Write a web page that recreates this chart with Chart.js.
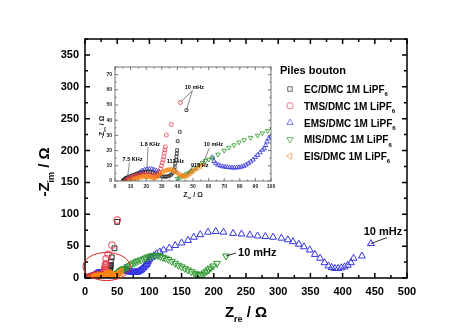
<!DOCTYPE html>
<html>
<head>
<meta charset="utf-8">
<script src="https://cdn.jsdelivr.net/npm/chart.js@4.4.0/dist/chart.umd.min.js"></script>
<style>
  body { margin: 0; background: #fff; }
  #wrap { position: relative; width: 474px; height: 335px; }
  #main { position: absolute; left: 0; top: 0; }
  #inset { position: absolute; left: 90px; top: 55px; }
</style>
</head>
<body>
<div id="wrap">
  <canvas id="main" width="474" height="335"></canvas>
  <canvas id="inset" width="190" height="150"></canvas>
</div>
<script>
const FONT = '"Liberation Sans", Arial, sans-serif';

// Nyquist data, [Z_re, -Z_im] in ohm
const ecPts = [[5,0.2],[5.5,0.6],[6,1],[6.5,1.4],[7,1.8],[7.5,2.1],[8,2.4],[9,2.8],[10,3.2],[11,3.6],[12,4],[13,4.4],[14,4.8],[15,5.1],[16.5,5.5],[18,5.8],[19.5,6],[21,6],[22.5,5.8],[24,5.4],[25.5,4.8],[27,4.1],[28.5,3.5],[30,3.1],[31,2.9],[32,2.8],[33,2.9],[34,3.1],[35,3.5],[36,4.2],[37,5.3],[37.8,7],[38.3,9],[38.7,11.6],[39.1,13.8],[39.4,16],[39.6,18],[39.8,20.3],[40.2,26.2],[41.5,32.4],[45.8,46.6],[50,88]];
const tmsPts = [[7,0.2],[7.5,0.6],[8,1],[9,1.5],[10,2],[11,2.5],[12,2.9],[13,3.3],[14,3.6],[15,3.9],[16.5,4.2],[18,4.4],[19.5,4.5],[21,4.4],[22.5,4.1],[24,3.7],[25,3.4],[26,3.3],[27,3.6],[27.8,4.5],[28.5,6],[29.2,8],[29.8,10],[30.3,12],[30.8,14],[31.2,16],[31.6,18.5],[32,20.5],[32.3,22.5],[32.9,30.2],[36.1,37.2],[41.9,51.6],[50,91]];
const emsPts = [[12,0.5],[13,2],[14,3.5],[15,4.8],[16,5.8],[17.5,6.8],[19,7.4],[20.5,7.8],[22,7.9],[23.5,7.8],[25,7.4],[26.5,6.8],[28,6.2],[62.4,15.5],[63.5,13],[64.5,11.6],[66,10.6],[67.5,10],[69,9.6],[70.5,9.3],[72,9.1],[73.5,8.9],[75,8.8],[76.5,8.7],[78,8.8],[79.5,9],[81,9.3],[82.5,9.8],[84,10.6],[85.5,11.6],[87,12.7],[88.5,14],[90,15.6],[91.4,17],[93,18.8],[94.5,20.4],[95.7,21.4],[96.6,23.5],[97.4,25.8],[98.5,28],[100,29.5],[103,32],[107,35],[111,38],[116,41],[122,44],[131,47],[140,51],[150,55],[160,59],[169,64],[179,68],[191,72],[203,73],[215,72],[230,70],[243,69],[256,67.5],[268,66],[280,65],[292,64],[305,62.5],[315,60],[323,57],[332,53],[340,49],[349,44],[357,37],[365,31],[372,24],[378,19],[383,16.5],[388,15],[393,15],[398,16],[403,17.5],[408,20],[413,24],[417,31],[430,34.5],[444,54]];
const misPts = [[40,1.5],[41.5,2.2],[43,3],[44.5,3.8],[46,4.6],[47.5,5.5],[49,6.5],[50,7],[52,8.5],[54,10.5],[56,12],[58,13.2],[60,14.2],[62.4,15],[66,17.5],[70,20],[73,22],[76.3,23.6],[79.5,25.5],[82.8,27],[87,28.5],[91.4,30],[94.5,31.5],[97.8,33],[101,34],[104.5,35],[108.7,35.5],[113,35.3],[117,34],[121,32.5],[125,31],[129.5,29],[134.6,26],[140,23],[145,20],[150,17.5],[155,15],[160,12.5],[165,10],[170,7.5],[173,6],[176,4.7],[179,5],[182,6],[185.5,8],[189,10.5],[192,13],[195,15.5],[199,18.8],[205,23],[219,34.5]];
const eisPts = [[9,0.2],[10,0.6],[11,1],[12,1.4],[13,1.8],[14,2.1],[15,2.4],[16,2.6],[17,2.8],[18,2.9],[19,3],[20,3],[21,2.9],[22,2.7],[23,2.4],[24,2.2],[25,2.1],[26,2.3],[27,2.9],[28,3.8],[29,4.8],[30,5.6],[31,6.3],[32,6.8],[33,7.2],[34,7.4],[35,7.5],[36,7.4],[37,7.1],[38,6.6],[39,5.9],[40,5.1],[41,4.3],[42,3.7],[43,3.3],[44,3.1],[45,3.2],[46,3.6],[47,4.2],[48,5],[49,5.8],[50,6.6],[51.5,7.6],[53,8.6],[54.5,9.6],[56,10.6]];

const electrolytes = ['EC/DMC 1M LiPF', 'TMS/DMC 1M LiPF', 'EMS/DMC 1M LiPF', 'MIS/DMC 1M LiPF', 'EIS/DMC 1M LiPF'];
const legendTitle = 'Piles bouton';

// series look: colour, point style, rotation, draw order (lower = on top)
const looks = [
  { pts: ecPts,  color: '#2a2a2a', key: '#555555', style: 'rect',     rot: 0,   order: 3 },
  { pts: tmsPts, color: '#e83c4c', key: '#ee6677', style: 'circle',   rot: 0,   order: 2 },
  { pts: emsPts, color: '#3434e0', key: '#6a6ae8', style: 'triangle', rot: 0,   order: 4 },
  { pts: misPts, color: '#2c962c', key: '#5aaa5a', style: 'triangle', rot: 180, order: 1 },
  { pts: eisPts, color: '#ff8412', key: '#f4a860', style: 'triangle', rot: 270, order: 0 }
];

function makeSets(r, bw) {
  return looks.map((s, i) => ({
    label: electrolytes[i],
    data: s.pts.map(p => ({ x: p[0], y: p[1] })),
    pointStyle: s.style,
    rotation: s.rot,
    order: s.order,
    borderColor: s.color,
    backgroundColor: 'rgba(0,0,0,0)',
    pointRadius: s.style === 'triangle' ? r + 0.6 : r,
    borderWidth: bw,
    showLine: false
  }));
}

// text made of pieces, some of them subscripts
function drawParts(ctx, parts, x, y, size, align) {
  const sub = Math.round(size * 0.6);
  let w = 0;
  parts.forEach(([t, s]) => { ctx.font = `bold ${s ? sub : size}px ${FONT}`; w += ctx.measureText(t).width; });
  let cx = align === 'center' ? x - w / 2 : x;
  ctx.textAlign = 'left';
  ctx.textBaseline = 'alphabetic';
  parts.forEach(([t, s]) => {
    ctx.font = `bold ${s ? sub : size}px ${FONT}`;
    ctx.fillText(t, cx, s ? y + size * 0.32 : y);
    cx += ctx.measureText(t).width;
  });
}

// closed box with inward ticks on all four sides
function drawFrame(chart, o) {
  const { ctx, chartArea: a, scales: { x, y } } = chart;
  ctx.save();
  ctx.strokeStyle = o.color;
  ctx.lineWidth = o.lw;
  ctx.strokeRect(a.left, a.top, a.right - a.left, a.bottom - a.top);
  ctx.beginPath();
  for (let v = x.min; v <= x.max; v += o.xMinor) {
    const p = x.getPixelForValue(v);
    const len = v % o.xMajor === 0 ? o.major : o.minor;
    ctx.moveTo(p, a.bottom); ctx.lineTo(p, a.bottom - len);
    ctx.moveTo(p, a.top); ctx.lineTo(p, a.top + len);
  }
  for (let v = y.min; v <= y.max; v += o.yMinor) {
    const p = y.getPixelForValue(v);
    const len = v % o.yMajor === 0 ? o.major : o.minor;
    ctx.moveTo(a.left, p); ctx.lineTo(a.left + len, p);
    ctx.moveTo(a.right, p); ctx.lineTo(a.right - len, p);
  }
  ctx.stroke();
  ctx.restore();
}

// frequency labels: anchored to a data point, text offset and leader end in px
function drawNotes(chart, notes, size, lineColor) {
  const { ctx, scales: { x, y } } = chart;
  ctx.save();
  notes.forEach(n => {
    const px = x.getPixelForValue(n.at[0][0]);
    const py = y.getPixelForValue(n.at[0][1]);
    const tx = px + n.dx, ty = py + n.dy;
    ctx.strokeStyle = lineColor;
    ctx.lineWidth = 0.8;
    ctx.beginPath();
    n.at.forEach(p => {
      ctx.moveTo(tx + n.ex, ty + n.ey);
      ctx.lineTo(x.getPixelForValue(p[0]), y.getPixelForValue(p[1]));
    });
    ctx.stroke();
    ctx.fillStyle = '#000';
    ctx.font = `bold ${size}px ${FONT}`;
    ctx.textAlign = n.align || 'center';
    ctx.textBaseline = 'middle';
    ctx.fillText(n.text, tx, ty);
  });
  ctx.restore();
}

const mainDecor = {
  id: 'mainDecor',
  afterDraw(chart) {
    const { ctx, scales: { x, y } } = chart;
    drawFrame(chart, { color: '#000', lw: 1.5, xMinor: 25, xMajor: 50, yMinor: 25, yMajor: 50, major: 5, minor: 3 });

    ctx.save();
    ctx.fillStyle = '#000';
    drawParts(ctx, [['Z', false], ['re', true], [' / \u03A9', false]], 246, 317, 15, 'center');
    ctx.translate(49, 172);
    ctx.rotate(-Math.PI / 2);
    drawParts(ctx, [['-Z', false], ['im', true], [' / \u03A9', false]], 0, 0, 15, 'center');
    ctx.restore();

    // red ellipse around the low-impedance zone
    ctx.save();
    const x0 = x.getPixelForValue(-3), x1 = x.getPixelForValue(70);
    const y0 = y.getPixelForValue(40), y1 = y.getPixelForValue(-4);
    ctx.strokeStyle = '#e02424';
    ctx.lineWidth = 1;
    ctx.beginPath();
    ctx.ellipse((x0 + x1) / 2, (y0 + y1) / 2, (x1 - x0) / 2, (y1 - y0) / 2, 0, 0, Math.PI * 2);
    ctx.stroke();
    ctx.restore();

    drawNotes(chart, [
      { text: '10 mHz', at: [emsPts[emsPts.length - 1]], dx: 12, dy: -12, ex: 4, ey: 6 },
      { text: '10 mHz', at: [misPts[misPts.length - 1]], dx: 12, dy: -3, ex: -2, ey: 0, align: 'left' }
    ], 11, '#000');

    // legend
    ctx.save();
    ctx.fillStyle = '#000';
    ctx.font = `bold 11px ${FONT}`;
    ctx.textAlign = 'left';
    ctx.textBaseline = 'alphabetic';
    ctx.fillText(legendTitle, 280, 74);
    looks.forEach((s, i) => {
      const cy = 89 + i * 16.8;
      ctx.strokeStyle = s.key;
      ctx.fillStyle = 'rgba(0,0,0,0)';
      ctx.lineWidth = 0.9;
      Chart.helpers.drawPoint(ctx, {
        pointStyle: s.style, rotation: s.rot,
        radius: s.style === 'triangle' ? 3.6 : 3.2, borderWidth: 0.9
      }, 290, cy);
      ctx.fillStyle = '#000';
      drawParts(ctx, [[electrolytes[i], false], ['6', true]], 304, cy + 4, 10, 'left');
    });
    ctx.restore();
  }
};

const insetDecor = {
  id: 'insetDecor',
  afterDraw(chart) {
    const { ctx } = chart;
    drawFrame(chart, { color: '#555', lw: 0.8, xMinor: 5, xMajor: 10, yMinor: 5, yMajor: 10, major: 3, minor: 1.5 });
    ctx.save();
    ctx.fillStyle = '#222';
    drawParts(ctx, [['Z', false], ['re', true], [' / \u03A9', false]], 103, 142, 7, 'center');
    ctx.translate(14, 72);
    ctx.rotate(-Math.PI / 2);
    drawParts(ctx, [['-Z', false], ['im', true], [' / \u03A9', false]], 0, 0, 7, 'center');
    ctx.restore();

    drawNotes(chart, [
      { text: '10 mHz', at: [tmsPts[tmsPts.length - 2], ecPts[ecPts.length - 2]], dx: 14, dy: -15, ex: -2, ey: 3 },
      { text: '1.8 KHz', at: [emsPts[7]], dx: 3, dy: -25, ex: -2, ey: 3 },
      { text: '7.5 KHz', at: [ecPts[6]], dx: 5, dy: -18, ex: -3, ey: 3 },
      { text: '112 Hz', at: [eisPts[31]], dx: -2, dy: -12, ex: -2, ey: 3 },
      { text: '916 Hz', at: [eisPts[37]], dx: 13, dy: -10, ex: -7, ey: 1 },
      { text: '10 mHz', at: [eisPts[eisPts.length - 1]], dx: 11, dy: -20, ex: -4, ey: 3 }
    ], 5.5, '#666');
  }
};

function keepEvery(step) {
  return scale => { scale.ticks = scale.ticks.filter(t => t.value % step === 0); };
}

new Chart(document.getElementById('main'), {
  type: 'scatter',
  data: { datasets: makeSets(3.4, 1) },
  options: {
    responsive: false,
    animation: false,
    layout: { padding: { left: 0, top: 39, right: 67, bottom: 0 } },
    plugins: { legend: { display: false }, tooltip: { enabled: false } },
    scales: {
      x: {
        type: 'linear', min: 0, max: 500,
        grid: { display: false, drawTicks: false },
        border: { display: false },
        ticks: { stepSize: 50, padding: 7, color: '#000', font: { family: FONT, size: 11, weight: 'bold' }, maxRotation: 0 },
        afterFit: s => { s.height = 57; }
      },
      y: {
        type: 'linear', min: 0, max: 375,
        grid: { display: false, drawTicks: false },
        border: { display: false },
        ticks: { stepSize: 50, padding: 6, color: '#000', font: { family: FONT, size: 11, weight: 'bold' } },
        afterBuildTicks: keepEvery(50),
        afterFit: s => { s.width = 85; }
      }
    }
  },
  plugins: [mainDecor]
});

new Chart(document.getElementById('inset'), {
  type: 'scatter',
  data: { datasets: makeSets(2, 0.8) },
  options: {
    responsive: false,
    animation: false,
    layout: { padding: { left: 0, top: 12, right: 9, bottom: 0 } },
    plugins: { legend: { display: false }, tooltip: { enabled: false } },
    scales: {
      x: {
        type: 'linear', min: 0, max: 100,
        grid: { display: false, drawTicks: false },
        border: { display: false },
        ticks: { stepSize: 10, padding: 3, color: '#222', font: { family: FONT, size: 5, weight: 'bold' }, maxRotation: 0, autoSkip: false },
        afterFit: s => { s.height = 24; }
      },
      y: {
        type: 'linear', min: 0, max: 75,
        grid: { display: false, drawTicks: false },
        border: { display: false },
        ticks: { stepSize: 10, padding: 3, color: '#222', font: { family: FONT, size: 5, weight: 'bold' }, autoSkip: false },
        afterBuildTicks: keepEvery(10),
        afterFit: s => { s.width = 25; }
      }
    }
  },
  plugins: [insetDecor]
});
</script>
</body>
</html>
